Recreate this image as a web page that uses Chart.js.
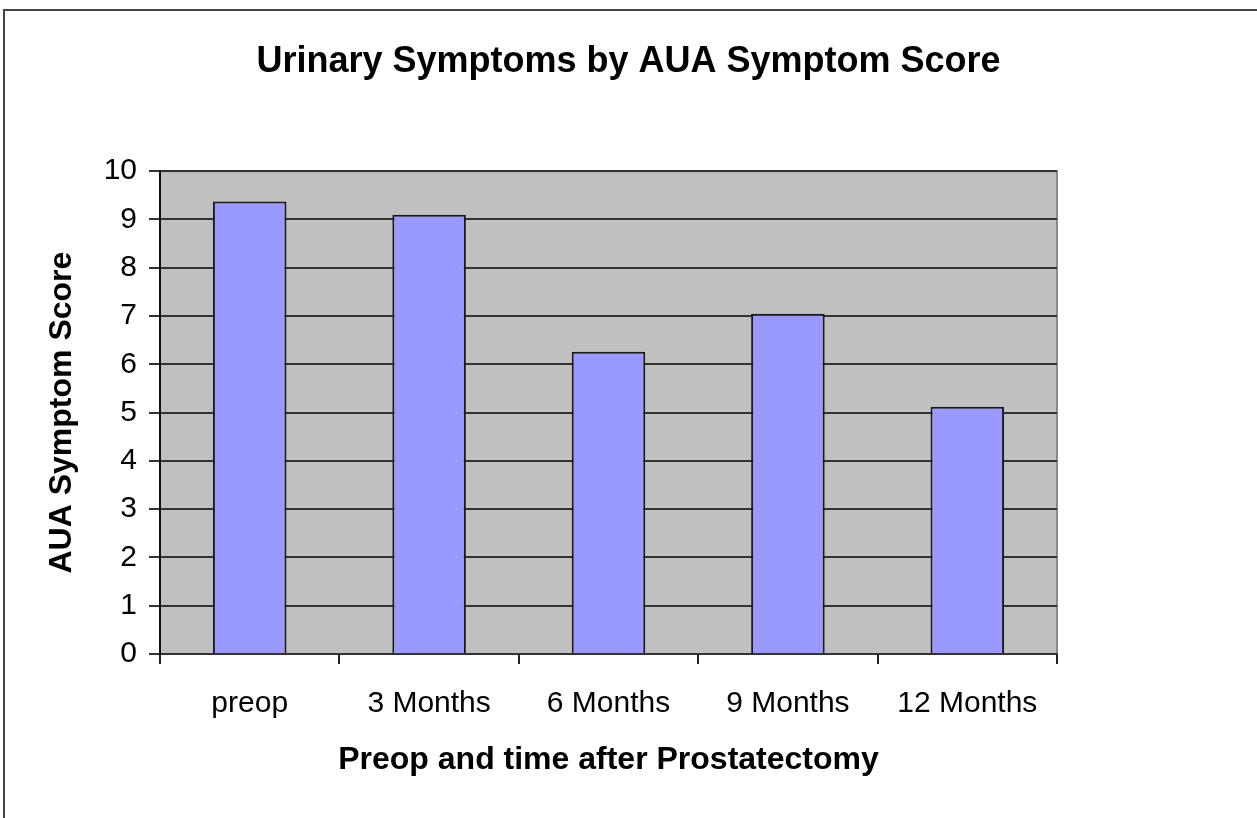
<!DOCTYPE html>
<html>
<head>
<meta charset="utf-8">
<script src="https://cdn.jsdelivr.net/npm/chart.js@4.4.0/dist/chart.umd.min.js"></script>
<style>
  html, body { margin: 0; padding: 0; background: #fff; }
  #wrap { width: 1257px; height: 818px; position: relative; }
</style>
</head>
<body>
<div id="wrap"><canvas id="auaChart" width="1257" height="818"></canvas></div>
<script>
const categories = ['preop', '3 Months', '6 Months', '9 Months', '12 Months'];
const scores = [9.37, 9.1, 6.26, 7.05, 5.12];
const yTicks = [0, 1, 2, 3, 4, 5, 6, 7, 8, 9, 10];

const FONT = '"Liberation Sans", Arial, sans-serif';

// gray plot area + outer frame, like the old Excel chart
const plotBg = {
    id: 'plotBg',
    beforeDraw(chart) {
        const { ctx, chartArea: a } = chart;
        ctx.save();
        ctx.fillStyle = '#fff';
        ctx.fillRect(0, 0, chart.width, chart.height);
        ctx.strokeStyle = '#444';
        ctx.lineWidth = 2;
        ctx.strokeRect(4, 10, chart.width + 20, chart.height + 20);
        ctx.fillStyle = '#c0c0c0';
        ctx.fillRect(a.left, a.top, a.right - a.left, a.bottom - a.top);
        ctx.strokeStyle = '#8a8a8a';
        ctx.lineWidth = 2;
        ctx.beginPath();
        ctx.moveTo(a.left, a.top);
        ctx.lineTo(a.right, a.top);
        ctx.lineTo(a.right, a.bottom);
        ctx.stroke();
        ctx.restore();
    }
};

const ctx = document.getElementById('auaChart').getContext('2d');

new Chart(ctx, {
    type: 'bar',
    data: {
        labels: categories,
        datasets: [{
            label: 'AUA Symptom Score',
            data: scores,
            backgroundColor: '#9999ff',
            borderColor: '#1a1a1a',
            borderWidth: 2,
            categoryPercentage: 1.0,
            barPercentage: 0.41
        }]
    },
    options: {
        responsive: false,
        animation: false,
        layout: { padding: 0 },
        plugins: {
            legend: { display: false },
            tooltip: { enabled: false },
            title: {
                display: true,
                text: 'Urinary Symptoms by AUA Symptom Score',
                color: '#000',
                font: { family: FONT, size: 36, weight: 'bold' },
                padding: { top: 40, bottom: 88 }
            }
        },
        scales: {
            x: {
                afterFit(scale) { scale.height = 164; },
                grid: {
                    drawOnChartArea: false,
                    drawTicks: true,
                    tickLength: 10,
                    color: '#222',
                    lineWidth: 2,
                    offset: true
                },
                border: { display: true, color: '#333', width: 2 },
                ticks: {
                    color: '#000',
                    padding: 22,
                    maxRotation: 0,
                    autoSkip: false,
                    font: { family: FONT, size: 30 }
                },
                title: {
                    display: true,
                    text: 'Preop and time after Prostatectomy',
                    color: '#000',
                    font: { family: FONT, size: 32, weight: 'bold' },
                    padding: { top: 0, bottom: 39 }
                }
            },
            y: {
                min: 0,
                max: 10,
                afterFit(scale) { scale.width = 160; },
                afterBuildTicks(scale) {
                    scale.ticks = yTicks.map(v => ({ value: v }));
                },
                grid: {
                    color: '#333',
                    lineWidth: 2,
                    tickLength: 11,
                    drawTicks: true
                },
                border: { display: true, color: '#111', width: 2 },
                ticks: {
                    color: '#000',
                    padding: 12,
                    font: { family: FONT, size: 30 }
                },
                title: {
                    display: true,
                    text: 'AUA Symptom Score',
                    color: '#000',
                    font: { family: FONT, size: 32, weight: 'bold' },
                    padding: { top: 43, bottom: 0 }
                }
            },
            // empty right-hand axis only reserves the blank space right of the plot
            spacer: {
                type: 'linear',
                position: 'right',
                min: 0,
                max: 10,
                afterFit(scale) { scale.width = 200; },
                grid: { drawOnChartArea: false, drawTicks: false },
                border: { display: false },
                ticks: { display: false }
            }
        }
    },
    plugins: [plotBg]
});
</script>
</body>
</html>
